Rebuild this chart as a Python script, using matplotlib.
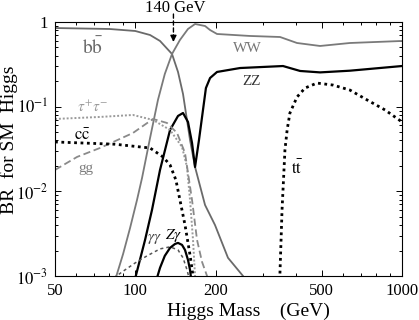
import matplotlib
matplotlib.use("Agg")
import matplotlib.pyplot as plt
from matplotlib.ticker import FixedLocator, NullFormatter, LogLocator

plt.rcParams["font.family"] = ["Liberation Serif", "DejaVu Serif"]
plt.rcParams["mathtext.fontset"] = "stix"

# Higgs mass (GeV) and branching ratio
bb_mass = [50, 80, 100, 113.6, 123.8, 137.3, 144.6, 151, 160.4, 167.5, 182.6, 199, 222.6, 253.5, 262]
bb_br = [0.849, 0.827, 0.783, 0.702, 0.597, 0.419, 0.257, 0.141, 0.0404, 0.0194, 0.0069, 0.0040, 0.00164, 0.001, 0.0008]

ww_mass = [84.5, 90, 95.6, 101.5, 106, 113.6, 121.6, 129, 137.3, 147, 157.6, 167.5,
           182.6, 190.7, 202.5, 269, 349, 404, 493, 638, 1000]
ww_br = [0.00095, 0.00182, 0.0037, 0.00792, 0.0144, 0.0427, 0.120, 0.243, 0.419, 0.613, 0.827, 0.947,
         0.897, 0.804, 0.722, 0.684, 0.665, 0.565, 0.521, 0.565, 0.597]

zz_mass = [100, 108.8, 115.5, 123.8, 135, 144.6, 151, 157.6, 163.2, 167.5, 173.3, 179.4, 184,
           190.7, 202.5, 247, 358, 380, 415, 493, 638, 1000]
zz_br = [0.00095, 0.00267, 0.00603, 0.0179, 0.0531, 0.0777, 0.0842, 0.066, 0.0373, 0.0194, 0.0404, 0.0914, 0.166,
         0.218, 0.257, 0.286, 0.302, 0.286, 0.264, 0.254, 0.266, 0.302]

tt_mass = [348, 352, 355, 361, 364, 371, 380, 404, 433, 480, 551, 638, 740, 864, 1000]
tt_br = [0.0009, 0.00267, 0.00603, 0.0179, 0.0308, 0.0531, 0.0842, 0.130, 0.166, 0.190, 0.180, 0.157, 0.120, 0.0914, 0.066]

tau_mass = [50, 73.7, 98, 116.5, 135, 149.7, 156.3, 160.4, 164.6, 167.5, 169]
tau_br = [0.0716, 0.0756, 0.0798, 0.0697, 0.0531, 0.0334, 0.0194, 0.00792, 0.00267, 0.001, 0.0008]

gg_mass = [50, 60.5, 73.7, 98, 116.5, 131.5, 143.4, 153.6, 157.6, 163.2, 170.4, 177.9, 185.8, 190]
gg_br = [0.0179, 0.0255, 0.0325, 0.0489, 0.0716, 0.0642, 0.0489, 0.0284, 0.0165, 0.00792, 0.00267, 0.00147, 0.001, 0.0008]

cc_mass = [50, 84, 113.6, 127, 135, 142, 147, 153.6, 160.4, 164.6, 167]
cc_br = [0.0383, 0.036, 0.0325, 0.0255, 0.0205, 0.0136, 0.00792, 0.00401, 0.00177, 0.001, 0.0008]

gamgam_mass = [83, 91.5, 100, 110.7, 123.8, 135, 144.6, 151, 156.3, 159]
gamgam_br = [0.00095, 0.00118, 0.00143, 0.00173, 0.00209, 0.00221, 0.00203, 0.00164, 0.00118, 0.00095]

zgam_mass = [120.6, 123.8, 129, 135, 140.9, 144.6, 149.7, 153.6, 157.6, 160.4, 161.8]
zgam_br = [0.00095, 0.00125, 0.00173, 0.00215, 0.00239, 0.00246, 0.00233, 0.00203, 0.00155, 0.00118, 0.00095]

xticks = [50, 100, 200, 500, 1000]
xtick_labels = ["50", "100", "200", "500", "1000"]
xminor = [60, 70, 80, 90, 300, 400, 600, 700, 800, 900]
yticks = [1e-3, 1e-2, 1e-1, 1]
ytick_labels = [r"$10^{-3}$", r"$10^{-2}$", r"$10^{-1}$", "1"]

fig = plt.figure(figsize=(4.19, 3.2), dpi=100)
ax = fig.add_axes([0.1313, 0.1375, 0.8281, 0.79375])

ax.plot(bb_mass, bb_br, color="#6a6a6a", lw=1.3)
ax.plot(ww_mass, ww_br, color="#7a7a7a", lw=1.3)
ax.plot(zz_mass, zz_br, color="black", lw=1.6)
ax.plot(tt_mass, tt_br, color="black", lw=2.0, ls=(0, (1, 1.3)))
ax.plot(tau_mass, tau_br, color="#9a9a9a", lw=1.4, ls=(0, (1, 1)))
ax.plot(gg_mass, gg_br, color="#8a8a8a", lw=1.3, ls=(0, (4, 2)))
ax.plot(cc_mass, cc_br, color="black", lw=2.0, ls=(0, (1, 1.3)))
ax.plot(gamgam_mass, gamgam_br, color="#555555", lw=1.1, ls=(0, (2, 2)))
ax.plot(zgam_mass, zgam_br, color="black", lw=1.6)

ax.set_xscale("log")
ax.set_yscale("log")
ax.set_xlim(50, 1000)
ax.set_ylim(1e-3, 1)

ax.set_xticks(xticks)
ax.set_xticklabels(xtick_labels)
ax.xaxis.set_minor_locator(FixedLocator(xminor))
ax.xaxis.set_minor_formatter(NullFormatter())
ax.set_yticks(yticks)
ax.set_yticklabels(ytick_labels)
ax.yaxis.set_minor_locator(LogLocator(base=10, subs=range(2, 10)))
ax.yaxis.set_minor_formatter(NullFormatter())
ax.tick_params(which="both", direction="in", top=True, right=True, labelsize=12, width=0.7)
ax.tick_params(which="major", length=4, pad=5)
ax.tick_params(which="minor", length=2.5)
for s in ax.spines.values():
    s.set_linewidth(0.8)

# curve labels
ax.text(69.4, 0.50, r"$\mathrm{b\bar{b}}$", fontsize=14, color="#6a6a6a", ha="center", va="center")
ax.text(264, 0.49, "WW", fontsize=11, color="#777777", ha="center", va="center")
ax.text(274, 0.20, "ZZ", fontsize=11, color="#333333", ha="center", va="center")
ax.text(404, 0.0184, r"$\mathrm{t\bar{t}}$", fontsize=12, color="black", ha="center", va="center")
ax.text(69.4, 0.099, r"$\tau^{+}\tau^{-}$", fontsize=11, color="#9a9a9a", ha="center", va="center")
ax.text(63.1, 0.045, r"$\mathrm{c\bar{c}}$", fontsize=12, color="black", ha="center", va="center")
ax.text(65.3, 0.0184, "gg", fontsize=11, color="#808080", ha="center", va="center")
ax.text(117.5, 0.0027, r"$\gamma\gamma$", fontsize=11, color="#444444", ha="center", va="center")
ax.text(139, 0.0030, r"$Z\gamma$", fontsize=11, color="black", ha="center", va="center")

# 140 GeV marker
ax.text(141, 1.47, "140 GeV", fontsize=12, ha="center", va="center", clip_on=False)
ax.annotate("", xy=(139, 0.62), xytext=(139, 1.34), xycoords="data",
            arrowprops=dict(arrowstyle="-", ls=(0, (3, 2)), color="black", lw=1), annotation_clip=False)
ax.annotate("", xy=(139, 0.54), xytext=(139, 0.68), xycoords="data",
            arrowprops=dict(arrowstyle="-|>", color="black", lw=1, mutation_scale=9), annotation_clip=False)

fig.text(248 / 419, 0.012, "Higgs Mass    (GeV)", fontsize=14, ha="center", va="baseline")
fig.text(0.022, 0.5625, "BR  for SM  Higgs", fontsize=14, rotation=90, ha="center", va="center")

fig.savefig("out.png", dpi=100)
